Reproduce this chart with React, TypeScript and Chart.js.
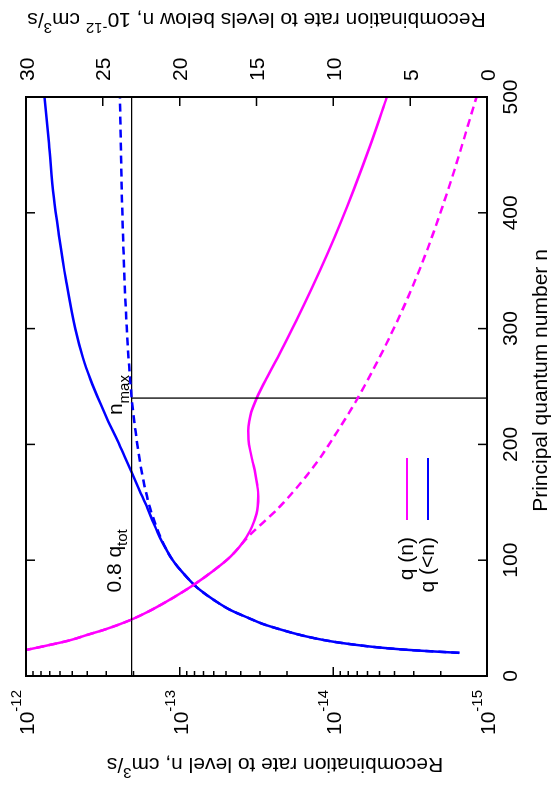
import React, { useEffect, useRef } from 'react';
import { Chart, registerables } from 'chart.js';

Chart.register(...registerables);

// ---------------- data ----------------
// q(n): recombination rate to level n (cm^3/s), solid magenta
const nQn = [20, 22.5, 27, 31, 36, 40, 47.8, 56, 64.2, 71.4, 78.6, 90, 103, 120, 140, 155, 165, 175, 185, 195, 204, 212, 220, 228, 240, 256, 280, 307, 335, 365, 392, 420, 460, 500];
const qn = [1.26e-12, 1.0e-12, 6.92e-13, 5.13e-13, 3.89e-13, 3.09e-13, 2.14e-13, 1.58e-13, 1.22e-13, 9.89e-14, 8.13e-14, 6.17e-14, 4.68e-14, 3.67e-14, 3.16e-14, 3.08e-14, 3.13e-14, 3.22e-14, 3.35e-14, 3.48e-14, 3.56e-14, 3.58e-14, 3.53e-14, 3.42e-14, 3.15e-14, 2.75e-14, 2.2e-14, 1.74e-14, 1.38e-14, 1.09e-14, 8.93e-15, 7.36e-15, 5.69e-15, 4.48e-15];
// q(n) without the bump, dashed magenta
const nQnSmooth = [20, 22.5, 27, 31, 36, 40, 47.8, 56, 64.2, 71.4, 78.6, 90, 103, 120, 146, 181, 212, 241, 302, 354, 420, 500];
const qnSmooth = [1.26e-12, 1.0e-12, 6.92e-13, 5.13e-13, 3.89e-13, 3.09e-13, 2.14e-13, 1.58e-13, 1.22e-13, 9.89e-14, 8.13e-14, 6.17e-14, 4.68e-14, 3.6e-14, 2.24e-14, 1.34e-14, 9.33e-15, 6.87e-15, 3.98e-15, 2.69e-15, 1.79e-15, 1.17e-15];
// q(<n): recombination rate to levels below n (1e-12 cm^3/s), solid blue
const nQbelow = [20, 21, 22, 23, 24, 25, 27, 29, 31, 34, 37, 40, 45, 50, 57, 65, 74, 80, 90, 100, 110, 120, 132, 145, 160, 175, 190, 205, 220, 235, 256, 275, 300, 342, 380, 414, 460, 500];
const qBelow = [1.8, 3.2, 4.5, 5.6, 6.5, 7.3, 8.6, 9.7, 10.6, 11.7, 12.6, 13.4, 14.6, 15.5, 16.7, 17.7, 18.65, 19.15, 19.85, 20.45, 20.9, 21.3, 21.7, 22.1, 22.6, 23.1, 23.6, 24.1, 24.65, 25.15, 25.8, 26.3, 26.8, 27.4, 27.85, 28.2, 28.5, 28.8];
// q(<n) without the bump, dashed blue
const nQbelowSmooth = [20, 21, 22, 23, 24, 25, 27, 29, 31, 34, 37, 40, 45, 50, 57, 65, 74, 80, 90, 100, 110, 120, 132, 146, 165, 181, 212, 241, 270, 302, 354, 420, 500];
const qBelowSmooth = [1.8, 3.2, 4.5, 5.6, 6.5, 7.3, 8.6, 9.7, 10.6, 11.7, 12.6, 13.4, 14.6, 15.5, 16.7, 17.7, 18.65, 19.15, 19.85, 20.45, 20.9, 21.25, 21.6, 21.95, 22.3, 22.53, 22.88, 23.13, 23.3, 23.45, 23.62, 23.77, 23.89];

const qTotLevel = 23.13; // 0.8 q_tot
const nMax = 240;

// ticks
const nTicks = [0, 100, 200, 300, 400, 500];
const rateExps = [-12, -13, -14, -15];
const belowTicks = [0, 5, 10, 15, 20, 25, 30];

const legendLabels = ['q (n)', 'q (<n)'];

// ---------------- drawing helpers ----------------
const W = 789;
const H = 554;
const FONT = '"Liberation Sans", Arial, Helvetica, sans-serif';
const BASE = 21;
const SMALL = 15;
const MAGENTA = '#ff00ff';
const BLUE = '#0000ff';

type Seg = { t: string; s?: 'sup' | 'sub' };

function fontFor(seg: Seg) {
  return `${seg.s ? SMALL : BASE}px ${FONT}`;
}

function segsWidth(ctx: CanvasRenderingContext2D, segs: Seg[]) {
  let w = 0;
  for (const s of segs) {
    ctx.font = fontFor(s);
    w += ctx.measureText(s.t).width;
  }
  return w;
}

function drawSegs(
  ctx: CanvasRenderingContext2D,
  segs: Seg[],
  x: number,
  y: number,
  align: 'left' | 'right' | 'center',
  supDy = -10,
  subDy = 6
) {
  const w = segsWidth(ctx, segs);
  let cx = align === 'left' ? x : align === 'right' ? x - w : x - w / 2;
  ctx.textAlign = 'left';
  ctx.textBaseline = 'alphabetic';
  for (const s of segs) {
    ctx.font = fontFor(s);
    const dy = s.s === 'sup' ? supDy : s.s === 'sub' ? subDy : 0;
    ctx.fillText(s.t, cx, y + dy);
    cx += ctx.measureText(s.t).width;
  }
}

const decorPlugin = {
  id: 'decor',
  afterDatasetsDraw(chart: any) {
    const ctx: CanvasRenderingContext2D = chart.ctx;
    const { left, right, top, bottom } = chart.chartArea;
    const xs = chart.scales.x;
    const ys = chart.scales.y;
    const y2 = chart.scales.y2;
    ctx.save();
    ctx.fillStyle = '#000';
    ctx.strokeStyle = '#000';

    // tick marks (inward)
    ctx.lineWidth = 1.5;
    ctx.beginPath();
    for (const n of nTicks) {
      const px = xs.getPixelForValue(n);
      ctx.moveTo(px, bottom);
      ctx.lineTo(px, bottom - 9);
      ctx.moveTo(px, top);
      ctx.lineTo(px, top + 9);
    }
    for (let e = -15; e < -12; e++) {
      for (let m = 2; m <= 9; m++) {
        const py = ys.getPixelForValue(m * Math.pow(10, e));
        ctx.moveTo(left, py);
        ctx.lineTo(left + 5, py);
      }
    }
    for (const e of rateExps) {
      const py = ys.getPixelForValue(Math.pow(10, e));
      ctx.moveTo(left, py);
      ctx.lineTo(left + 9, py);
    }
    for (const v of belowTicks) {
      const py = y2.getPixelForValue(v);
      ctx.moveTo(right, py);
      ctx.lineTo(right - 9, py);
    }
    ctx.stroke();

    // border
    ctx.lineWidth = 2;
    ctx.strokeRect(left, top, right - left, bottom - top);

    // x tick labels
    for (const n of nTicks) {
      drawSegs(ctx, [{ t: String(n) }], xs.getPixelForValue(n), bottom + 30, 'center');
    }
    // log tick labels
    for (const e of rateExps) {
      const py = ys.getPixelForValue(Math.pow(10, e));
      drawSegs(ctx, [{ t: '10' }, { t: String(e), s: 'sup' }], left - 14, py + 8, 'right', -13);
    }
    // right tick labels
    for (const v of belowTicks) {
      const py = y2.getPixelForValue(v);
      drawSegs(ctx, [{ t: String(v) }], right + 16, py + 7.5, 'left');
    }

    // axis titles
    drawSegs(ctx, [{ t: 'Principal quantum number n' }], (left + right) / 2 + 6, H - 7, 'center');

    ctx.save();
    ctx.translate(31, 275);
    ctx.rotate(-Math.PI / 2);
    drawSegs(ctx, [{ t: 'Recombination rate to level n, cm' }, { t: '3', s: 'sup' }, { t: '/s' }], 0, 0, 'center');
    ctx.restore();

    ctx.save();
    ctx.translate(W - 13, (top + bottom) / 2);
    ctx.rotate(-Math.PI / 2);
    drawSegs(
      ctx,
      [
        { t: 'Recombination rate to levels below n, 10' },
        { t: '-12', s: 'sup' },
        { t: ' cm' },
        { t: '3', s: 'sup' },
        { t: '/s' },
      ],
      0,
      0,
      'center'
    );
    ctx.restore();

    // annotations
    const yLevel = y2.getPixelForValue(qTotLevel);
    drawSegs(ctx, [{ t: '0.8 q' }, { t: 'tot', s: 'sub' }], xs.getPixelForValue(72), yLevel - 10.5, 'left', -10, 6);
    drawSegs(ctx, [{ t: 'n' }, { t: 'max', s: 'sub' }], xs.getPixelForValue(nMax) - 17, yLevel - 9.5, 'left', -10, 7);

    // legend
    const legColors = [MAGENTA, BLUE];
    const legY = [407, 428];
    for (let i = 0; i < 2; i++) {
      ctx.fillStyle = '#000';
      drawSegs(ctx, [{ t: legendLabels[i] }], 252, legY[i] + 5.5, 'right');
      ctx.strokeStyle = legColors[i];
      ctx.lineWidth = 2.2;
      ctx.beginPath();
      ctx.moveTo(269, legY[i]);
      ctx.lineTo(331, legY[i]);
      ctx.stroke();
    }
    ctx.restore();
  },
};

function pts(xs: number[], ys: number[]) {
  return xs.map((x, i) => ({ x, y: ys[i] }));
}

const lineBase = {
  pointRadius: 0,
  fill: false,
  borderWidth: 2.5,
  cubicInterpolationMode: 'monotone',
};

export default function App() {
  const ref = useRef<HTMLCanvasElement | null>(null);

  useEffect(() => {
    if (!ref.current) return;
    const chart = new Chart(ref.current, {
      type: 'line',
      data: {
        datasets: [
          {
            ...lineBase,
            label: 'q(n) no bump',
            data: pts(nQnSmooth, qnSmooth),
            yAxisID: 'y',
            borderColor: MAGENTA,
            borderDash: [8, 5],
          },
          {
            ...lineBase,
            label: 'q(<n) no bump',
            data: pts(nQbelowSmooth, qBelowSmooth),
            yAxisID: 'y2',
            borderColor: BLUE,
            borderDash: [8, 5],
          },
          {
            label: '0.8 q_tot',
            data: [
              { x: 0, y: qTotLevel },
              { x: 500, y: qTotLevel },
            ],
            yAxisID: 'y2',
            borderColor: '#000',
            borderWidth: 1.3,
            pointRadius: 0,
            fill: false,
          },
          {
            label: 'n_max',
            data: [
              { x: nMax, y: 0 },
              { x: nMax, y: qTotLevel },
            ],
            yAxisID: 'y2',
            borderColor: '#000',
            borderWidth: 1.3,
            pointRadius: 0,
            fill: false,
          },
          {
            ...lineBase,
            label: 'q (n)',
            data: pts(nQn, qn),
            yAxisID: 'y',
            borderColor: MAGENTA,
          },
          {
            ...lineBase,
            label: 'q (<n)',
            data: pts(nQbelow, qBelow),
            yAxisID: 'y2',
            borderColor: BLUE,
          },
        ],
      },
      options: {
        responsive: false,
        animation: false,
        events: [],
        layout: { padding: { left: 113, right: W - 692, top: 26, bottom: H - 487 } },
        plugins: { legend: { display: false }, tooltip: { enabled: false } },
        scales: {
          x: {
            type: 'linear',
            min: 0,
            max: 500,
            position: 'bottom',
            ticks: { display: false, stepSize: 100 },
            grid: { display: false, drawTicks: false },
            border: { display: false },
          },
          y: {
            type: 'logarithmic',
            min: 1e-15,
            max: 1e-12,
            position: 'left',
            ticks: { display: false },
            grid: { display: false, drawTicks: false },
            border: { display: false },
          },
          y2: {
            type: 'linear',
            min: 0,
            max: 30,
            position: 'right',
            ticks: { display: false, stepSize: 5 },
            grid: { display: false, drawTicks: false },
            border: { display: false },
          },
        },
      },
      plugins: [decorPlugin],
    } as any);
    return () => chart.destroy();
  }, []);

  return (
    <div
      style={{
        position: 'fixed',
        left: 0,
        top: 0,
        width: W,
        height: H,
        transformOrigin: '0 0',
        transform: `translateY(${W}px) rotate(-90deg)`,
        background: '#fff',
      }}
    >
      <canvas ref={ref} width={W} height={H} style={{ display: 'block', width: W, height: H }} />
    </div>
  );
}
